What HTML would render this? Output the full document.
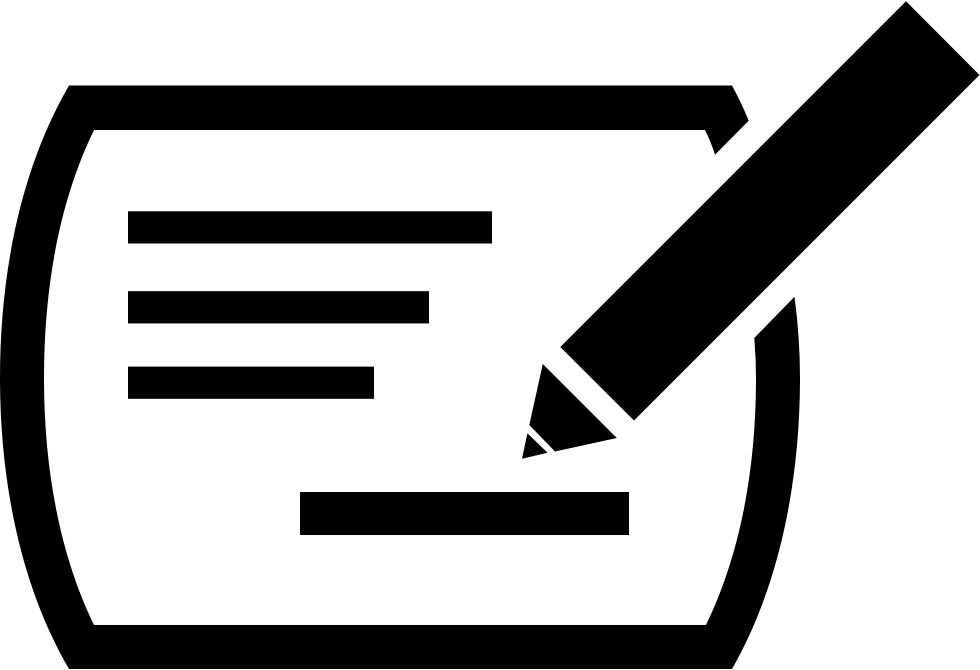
<!DOCTYPE html>
<html>
<head>
<meta charset="utf-8">
<style>
html,body{margin:0;padding:0;background:#fff;}
svg{display:block;}
</style>
</head>
<body>
<svg width="980" height="670" viewBox="0 0 980 670" xmlns="http://www.w3.org/2000/svg">
<rect width="980" height="670" fill="#fff"/>
<path fill="#000" fill-rule="evenodd" d="M69 85.500 L732 85.500 Q741 102 748.700 120.700 L715 154.700 Q711 142 705 130 L94 130 C60 200 44 285 44 378 C44 470 60 555 94 625 L706 625 C740 555 756 470 756 378 Q756 358 754.300 338 L794.500 296.700 Q800 338 800 378 C800 480 780 585 732 669 L69 669 C20 585 0 480 0 378 C0 275 20 170 69 85.500 Z"/>
<rect x="128" y="211.300" width="364" height="32.200" fill="#000"/>
<rect x="128" y="291.200" width="301" height="32.200" fill="#000"/>
<rect x="128" y="366.600" width="246" height="32.200" fill="#000"/>
<rect x="300" y="492" width="329" height="43" fill="#000"/>
<polygon fill="#000" points="906,1.300 979.500,75 634,420.500 560.300,347"/>
<polygon fill="#000" points="542.800,364 616.800,438 555,451.500 529.300,425"/>
<polygon fill="#000" points="527.400,433.300 547.500,452.800 522,458.800"/>
</svg>
</body>
</html>
